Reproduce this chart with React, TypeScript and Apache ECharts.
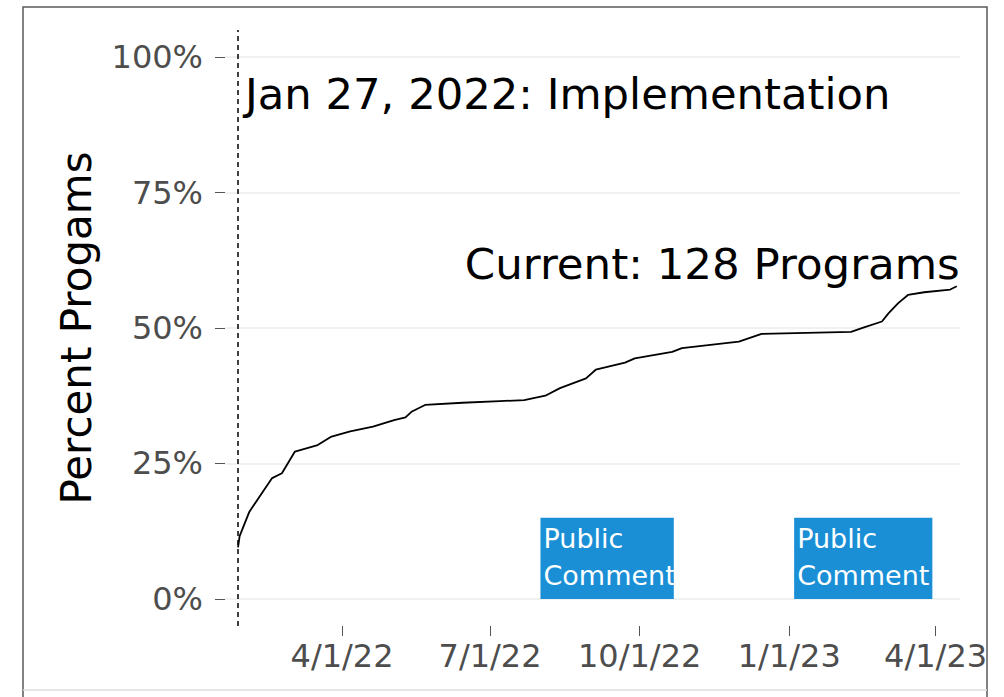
import React, { useEffect, useRef } from "react";
import * as echarts from "echarts";

// ---- data ----
const dates: string[] = [
  "2022-01-27", "2022-01-28", "2022-02-03", "2022-02-12", "2022-02-17", "2022-02-23",
  "2022-03-03", "2022-03-17", "2022-03-25", "2022-04-06", "2022-04-20", "2022-05-03",
  "2022-05-10", "2022-05-14", "2022-05-22", "2022-06-14", "2022-07-07", "2022-07-22",
  "2022-08-04", "2022-08-13", "2022-08-29", "2022-09-04", "2022-09-22", "2022-09-28",
  "2022-10-21", "2022-10-27", "2022-12-01", "2022-12-15", "2023-02-08", "2023-02-16",
  "2023-02-27", "2023-03-03", "2023-03-09", "2023-03-15", "2023-03-25", "2023-04-10",
  "2023-04-14",
];
const percentPrograms: number[] = [
  9.5, 11.6, 16.1, 20.1, 22.3, 23.2,
  27.2, 28.4, 29.9, 30.9, 31.8, 33.0,
  33.5, 34.6, 35.8, 36.2, 36.5, 36.7,
  37.5, 38.9, 40.7, 42.3, 43.6, 44.4,
  45.6, 46.3, 47.5, 48.9, 49.3, 50.1,
  51.2, 52.7, 54.6, 56.1, 56.6, 57.1,
  57.7,
];

const implementationDate = "2022-01-27";
const implementationLabel = "Jan 27, 2022: Implementation";
const implementationLabelY = 93.2;
const currentLabel = "Current: 128 Programs";
const currentLabelY = 61.9;

const commentStarts: string[] = ["2022-08-01", "2023-01-04"];
const commentEnds: string[] = ["2022-10-22", "2023-03-30"];
const commentTop = 15;
const commentLabel = "Public\nComment";

const yTicks: number[] = [0, 25, 50, 75, 100];
const xTickDates: string[] = ["2022-04-01", "2022-07-01", "2022-10-01", "2023-01-01", "2023-04-01"];
const xMin = "2022-01-19";
const xMax = "2023-04-16";

const FONT = "DejaVu Sans";

function parseLocal(s: string): number {
  const [y, m, d] = s.split("-").map(Number);
  return new Date(y, m - 1, d).getTime();
}

export default function App() {
  const ref = useRef<HTMLDivElement>(null);

  useEffect(() => {
    if (!ref.current) return;
    const chart = echarts.init(ref.current, undefined, { renderer: "svg" });
    const lineData = dates.map((d, i) => [parseLocal(d), percentPrograms[i]]);
    const lastDate = parseLocal(dates[dates.length - 1]);
    const xTickValues = xTickDates.map(parseLocal);

    chart.setOption({
      animation: false,
      backgroundColor: "#ffffff",
      textStyle: { fontFamily: FONT },
      grid: { left: 225, right: 44, top: 30, bottom: 71, containLabel: false },
      xAxis: {
        type: "value",
        min: parseLocal(xMin),
        max: parseLocal(xMax),
        scale: true,
        axisLine: { show: false, onZero: false },
        axisTick: {
          show: true,
          length: 10,
          lineStyle: { color: "#555", width: 1 },
          customValues: xTickValues,
        },
        axisLabel: {
          customValues: xTickValues,
          fontFamily: FONT,
          fontSize: 32,
          color: "#4d4d4d",
          margin: 14,
          formatter: (v: number) => {
            const d = new Date(v);
            return `${d.getMonth() + 1}/${d.getDate()}/${String(d.getFullYear()).slice(2)}`;
          },
        },
        splitLine: { show: false },
      },
      yAxis: {
        type: "value",
        min: -5,
        max: 105,
        name: "Percent Progams",
        nameLocation: "middle",
        nameGap: 128,
        nameTextStyle: { fontFamily: FONT, fontSize: 42, color: "#000" },
        axisLine: { show: false, onZero: false },
        axisTick: {
          show: true,
          length: 10,
          lineStyle: { color: "#555", width: 1 },
          customValues: yTicks,
        },
        axisLabel: {
          customValues: yTicks,
          fontFamily: FONT,
          fontSize: 32,
          color: "#4d4d4d",
          margin: 22,
          formatter: (v: number) => `${v}%`,
        },
        splitLine: { show: true, lineStyle: { color: "#ececec", width: 1.5 } },
      },
      series: [
        {
          type: "line",
          data: lineData,
          showSymbol: false,
          symbol: "none",
          lineStyle: { color: "#000", width: 1.8 },
          z: 5,
          markLine: {
            silent: true,
            symbol: ["none", "none"],
            label: { show: false },
            lineStyle: { color: "#000", type: [5, 4], width: 1.5 },
            data: [{ xAxis: parseLocal(implementationDate) }],
          },
          markArea: {
            silent: true,
            itemStyle: { color: "#1a8fd6", opacity: 1 },
            label: {
              show: true,
              position: [3, 2],
              align: "left",
              verticalAlign: "top",
              formatter: commentLabel,
              color: "#ffffff",
              fontFamily: FONT,
              fontSize: 27,
              lineHeight: 37,
            },
            data: commentStarts.map((s, i) => [
              { xAxis: parseLocal(s), yAxis: 0 },
              { xAxis: parseLocal(commentEnds[i]), yAxis: commentTop },
            ]),
          },
          markPoint: {
            silent: true,
            symbol: "circle",
            symbolSize: 0,
            data: [
              {
                coord: [parseLocal(implementationDate), implementationLabelY],
                label: {
                  show: true,
                  position: "right",
                  distance: 7,
                  formatter: implementationLabel,
                  color: "#000",
                  fontFamily: FONT,
                  fontSize: 43.3,
                },
              },
              {
                coord: [lastDate, currentLabelY],
                label: {
                  show: true,
                  position: "left",
                  distance: -3,
                  formatter: currentLabel,
                  color: "#000",
                  fontFamily: FONT,
                  fontSize: 43.5,
                },
              },
            ],
          },
        },
      ],
      graphic: [
        {
          type: "polyline",
          silent: true,
          shape: { points: [[23, 697], [23, 7], [987, 7], [987, 697]] },
          style: { stroke: "#5a5a5a", lineWidth: 1.5, fill: null },
        },
        {
          type: "line",
          silent: true,
          shape: { x1: 23, y1: 690, x2: 987, y2: 690 },
          style: { stroke: "#dddddd", lineWidth: 1.5 },
        },
      ],
    });
    return () => chart.dispose();
  }, []);

  return (
    <div
      ref={ref}
      style={{ position: "fixed", left: 0, top: 0, width: 1004, height: 697, background: "#fff" }}
    />
  );
}
